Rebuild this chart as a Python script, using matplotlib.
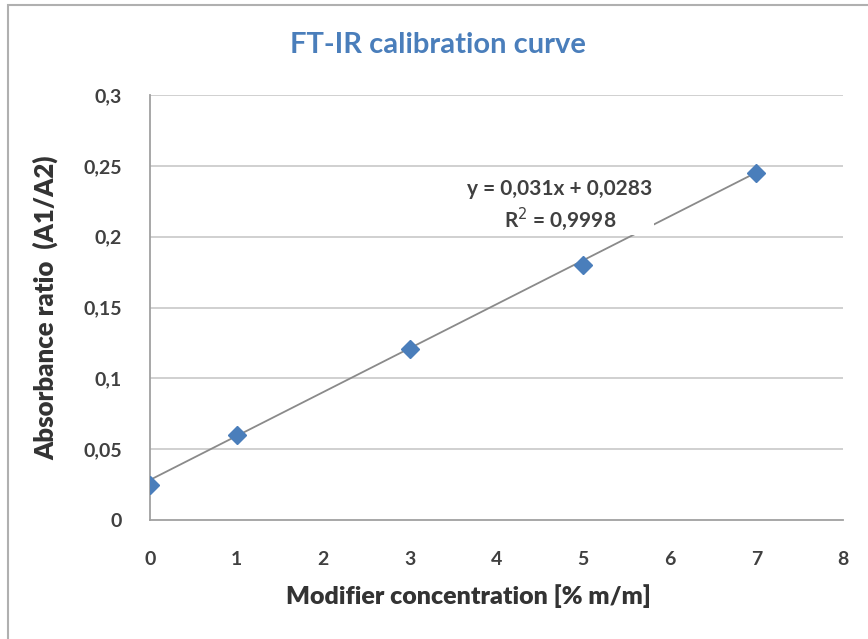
import matplotlib
matplotlib.use("Agg")
import matplotlib.pyplot as plt
from matplotlib.ticker import FuncFormatter
import numpy as np

conc = [0, 1, 3, 5, 7]
ratio = [0.025, 0.060, 0.121, 0.180, 0.245]
slope, intercept = 0.031, 0.0283
eq_text = "y = 0,031x + 0,0283\nR$^2$ = 0,9998"
x_ticks = [0, 1, 2, 3, 4, 5, 6, 7, 8]
y_ticks = [0, 0.05, 0.1, 0.15, 0.2, 0.25, 0.3]

plt.rcParams['font.family'] = ['Lato', 'DejaVu Sans']

fig = plt.figure(figsize=(8.68, 6.39), dpi=100)
fig.patches.append(plt.Rectangle((8/868, -0.05), 1.1, 1.05 - 5/639, transform=fig.transFigure,
                                 fill=False, edgecolor='#b0b0b0', linewidth=1.5))
ax = fig.add_axes([150/868, 1-520/639, 693/868, 425/639])

for y in y_ticks[1:]:
    ax.axhline(y, color='#c8c8c8', linewidth=1.2, zorder=0)

xl = np.array([conc[0], conc[-1]])
ax.plot(xl, slope*xl + intercept, color='#8a8a8a', linewidth=1.3, zorder=2)
ax.plot(conc, ratio, linestyle='none', marker='D', markersize=9, color='#4a7ebb', zorder=3)

ax.set_xlim(0, 8)
ax.set_ylim(0, 0.3)
ax.set_xticks(x_ticks)
ax.set_yticks(y_ticks)
fmt = FuncFormatter(lambda v, p: ('%g' % v).replace('.', ','))
ax.yaxis.set_major_formatter(fmt)
ax.tick_params(axis='x', length=0, labelsize=14, colors='#404040', pad=22)
ax.tick_params(axis='y', length=0, labelsize=14, colors='#404040', pad=20)
for lab in ax.get_xticklabels() + ax.get_yticklabels():
    lab.set_fontweight('bold')

for s in ['top', 'right']:
    ax.spines[s].set_visible(False)
for s in ['left', 'bottom']:
    ax.spines[s].set_color('#a0a0a0')
    ax.spines[s].set_linewidth(1.3)

ax.set_xlabel("Modifier concentration [% m/m]", fontsize=18, fontweight='heavy', color='#333333', labelpad=12)
ax.xaxis.label.set_x((468 - 150) / 693)
ax.set_ylabel("Absorbance ratio  (A1/A2)", fontsize=18.5, fontweight='heavy', color='#333333', labelpad=18)
fig.text(438/868, 1-45/639, "FT-IR calibration curve", fontsize=21, fontweight='bold',
         color='#4a7ebb', ha='center', va='center')
ax.text(4.73, 0.2215, eq_text, fontsize=15, fontweight='bold', color='#404040', ha='center', va='center',
        linespacing=1.3, bbox=dict(facecolor='white', edgecolor='none', pad=1))

fig.savefig("out.png", dpi=100)
